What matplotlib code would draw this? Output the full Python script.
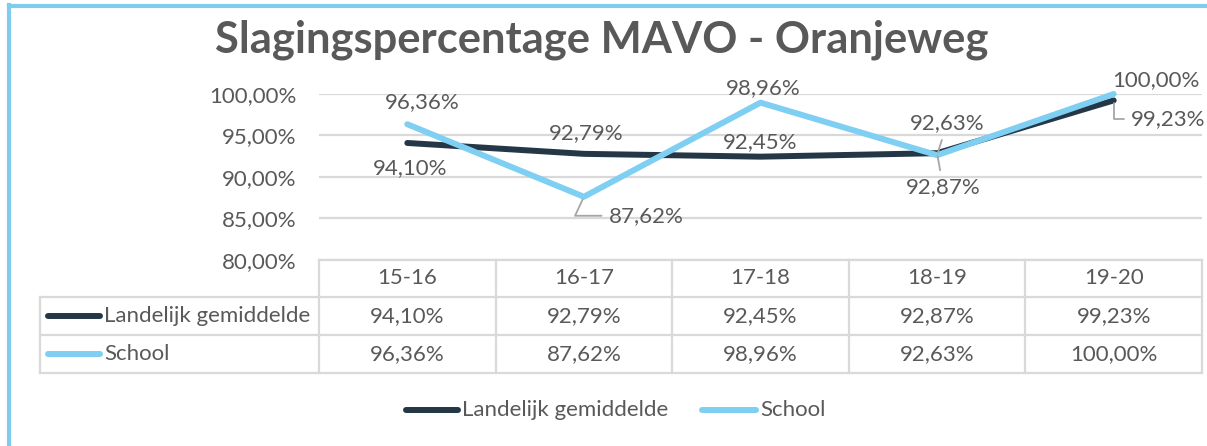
import matplotlib
matplotlib.use("Agg")
import matplotlib.pyplot as plt
from matplotlib.lines import Line2D

plt.rcParams['font.family'] = ['Lato', 'DejaVu Sans']

# ---- data ----
title = "Slagingspercentage MAVO - Oranjeweg"
categories = ["15-16", "16-17", "17-18", "18-19", "19-20"]
series_names = ["Landelijk gemiddelde", "School"]
landelijk = [94.10, 92.79, 92.45, 92.87, 99.23]
school = [96.36, 87.62, 98.96, 92.63, 100.00]
yticks = [80, 85, 90, 95, 100]

# ---- styles ----
W, H = 1207, 446
TXT = "#595959"
GRID = "#d9d9d9"
DARK = "#243746"
LIGHT = "#7fcff3"
LEAD = "#a6a6a6"
BORDER = "#7fcdee"
FS = 16


def fmt(v):
    return f"{v:.2f}".replace(".", ",") + "%"


def fx(x):
    return x / W


def fy(y):
    return 1 - y / H


fig = plt.figure(figsize=(W / 100, H / 100), dpi=100)
fig.patch.set_facecolor("white")

# plot area
x0, x1 = 319, 1202
ytop, ybot = 94, 260
ax = fig.add_axes([fx(x0), fy(ybot), fx(x1) - fx(x0), fy(ytop) - fy(ybot)])
ax.set_xlim(-0.5, len(categories) - 0.5)
ax.set_ylim(80, 100)
for s in ax.spines.values():
    s.set_visible(False)
ax.set_yticks(yticks)
ax.set_yticklabels([fmt(v) for v in yticks], fontsize=FS, color=TXT)
ax.tick_params(axis='y', length=0, pad=16)
ax.set_xticks([])
ax.grid(axis='y', color=GRID, lw=1.6)
ax.set_axisbelow(True)
ax.patch.set_alpha(0)

xs = list(range(len(categories)))
ax.plot(xs, landelijk, color=DARK, lw=4.3, solid_capstyle='round', solid_joinstyle='round', zorder=3, clip_on=False)
ax.plot(xs, school, color=LIGHT, lw=4.3, solid_capstyle='round', solid_joinstyle='round', zorder=4, clip_on=False)

lab_kw = dict(textcoords='offset pixels', ha='center', va='center', fontsize=FS, color=TXT,
              annotation_clip=False, zorder=5)
# (series, index, dx, dy, connection)
labels = [
    (school, 0, 15, 22, None),
    (landelijk, 0, 3, -25, None),
    (landelijk, 1, 2, 21, None),
    (school, 1, 62, -19, "angle,angleA=0,angleB=65"),
    (school, 2, 3, 15, None),
    (landelijk, 2, 0, 15, None),
    (school, 3, 10, 32, "arc3"),
    (landelijk, 3, 6, -34, "arc3"),
    (school, 4, 42, 14, None),
    (landelijk, 4, 54, -19, "angle,angleA=0,angleB=90"),
]
for ser, i, dx, dy, conn in labels:
    kw = dict(lab_kw)
    if conn:
        kw['arrowprops'] = dict(arrowstyle='-', color=LEAD, lw=1.3, shrinkA=3, shrinkB=2,
                                connectionstyle=conn)
    ax.annotate(fmt(ser[i]), xy=(i, ser[i]), xytext=(dx, dy), **kw)

# ---- data table ----
col_w = (x1 - x0) / len(categories)
row_y = [260, 297, 335, 373]
lab_x0 = 40
tlw = 1.6


def hline(xa, xb, y):
    fig.add_artist(Line2D([fx(xa), fx(xb)], [fy(y), fy(y)], color=GRID, lw=tlw))


def vline(x, ya, yb):
    fig.add_artist(Line2D([fx(x), fx(x)], [fy(ya), fy(yb)], color=GRID, lw=tlw))


hline(x0, x1, row_y[0])
for y in row_y[1:]:
    hline(lab_x0, x1, y)
for k in range(len(categories) + 1):
    vline(x0 + k * col_w, row_y[0], row_y[3])
vline(lab_x0, row_y[1], row_y[3])

for k, c in enumerate(categories):
    cx = x0 + (k + 0.5) * col_w
    fig.text(fx(cx), fy((row_y[0] + row_y[1]) / 2), c, ha='center', va='center', fontsize=FS, color=TXT)
    fig.text(fx(cx), fy((row_y[1] + row_y[2]) / 2), fmt(landelijk[k]), ha='center', va='center', fontsize=FS, color=TXT)
    fig.text(fx(cx), fy((row_y[2] + row_y[3]) / 2), fmt(school[k]), ha='center', va='center', fontsize=FS, color=TXT)

for r, (name, col) in enumerate(zip(series_names, [DARK, LIGHT])):
    yc = (row_y[r + 1] + row_y[r + 2]) / 2
    fig.add_artist(Line2D([fx(48), fx(100)], [fy(yc), fy(yc)], color=col, lw=4.3, solid_capstyle='round'))
    fig.text(fx(104), fy(yc), name, ha='left', va='center', fontsize=FS, color=TXT)

# ---- bottom legend ----
leg_y = 410
for (xa, xb, tx), name, col in zip([(406, 458, 462), (702, 756, 760)], series_names, [DARK, LIGHT]):
    fig.add_artist(Line2D([fx(xa), fx(xb)], [fy(leg_y), fy(leg_y)], color=col, lw=4.3, solid_capstyle='round'))
    fig.text(fx(tx), fy(leg_y), name, ha='left', va='center', fontsize=FS, color=TXT)

# ---- title ----
fig.text(fx(602), fy(40), title, ha='center', va='center', fontsize=31.3, fontweight='bold', color=TXT)

# ---- frame border (left and top) ----
fig.add_artist(Line2D([fx(9), fx(9)], [fy(5), 0], color=BORDER, lw=3))
fig.add_artist(Line2D([fx(9), 1], [fy(5.5), fy(5.5)], color=BORDER, lw=3))

fig.savefig("out.png", dpi=100, facecolor="white")
